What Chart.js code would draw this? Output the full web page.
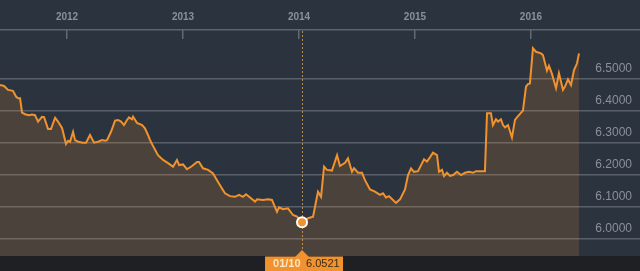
<!DOCTYPE html>
<html>
<head>
<meta charset="utf-8">
<script src="https://cdn.jsdelivr.net/npm/chart.js@4.4.1/dist/chart.umd.min.js"></script>
<style>
  html, body { margin: 0; padding: 0; background: #2a333e; }
  #wrap { width: 640px; height: 271px; }
</style>
</head>
<body>
<div id="wrap"><canvas id="chartTipo"></canvas></div>
<script>
// fechas en años decimales
const fechas = [
  2011.422, 2011.457, 2011.491, 2011.534, 2011.560, 2011.578, 2011.595, 2011.612, 2011.638, 2011.672,
  2011.698, 2011.724, 2011.750, 2011.784, 2011.802, 2011.836, 2011.862, 2011.897, 2011.922, 2011.957,
  2011.991, 2012.009, 2012.026, 2012.052, 2012.069, 2012.095, 2012.138, 2012.164, 2012.198, 2012.233,
  2012.267, 2012.302, 2012.328, 2012.345, 2012.379, 2012.414, 2012.440, 2012.466, 2012.491, 2012.517,
  2012.534, 2012.560, 2012.569, 2012.603, 2012.647, 2012.672, 2012.698, 2012.716, 2012.741, 2012.784,
  2012.828, 2012.871, 2012.914, 2012.948, 2012.966, 2013.000, 2013.034, 2013.078, 2013.121, 2013.138,
  2013.172, 2013.216, 2013.259, 2013.293, 2013.336, 2013.362, 2013.405, 2013.448, 2013.483, 2013.517,
  2013.543, 2013.578, 2013.621, 2013.638, 2013.690, 2013.733, 2013.767, 2013.810, 2013.828, 2013.862,
  2013.905, 2013.948, 2013.983, 2014.026, 2014.078, 2014.121, 2014.155, 2014.164, 2014.190, 2014.216,
  2014.241, 2014.284, 2014.328, 2014.353, 2014.397, 2014.422, 2014.457, 2014.474, 2014.509, 2014.543,
  2014.569, 2014.612, 2014.655, 2014.698, 2014.724, 2014.750, 2014.776, 2014.810, 2014.836, 2014.871,
  2014.914, 2014.940, 2014.966, 2014.991, 2015.026, 2015.078, 2015.103, 2015.129, 2015.155, 2015.190,
  2015.207, 2015.233, 2015.250, 2015.276, 2015.302, 2015.328, 2015.362, 2015.397, 2015.431, 2015.466,
  2015.500, 2015.526, 2015.586, 2015.603, 2015.621, 2015.655, 2015.672, 2015.698, 2015.716, 2015.741,
  2015.759, 2015.776, 2015.802, 2015.836, 2015.862, 2015.888, 2015.931, 2015.957, 2015.974, 2015.991,
  2016.017, 2016.043, 2016.086, 2016.103, 2016.138, 2016.155, 2016.181, 2016.216, 2016.241, 2016.276,
  2016.293, 2016.319, 2016.345, 2016.371, 2016.397, 2016.414
];
const valores = [
  6.481, 6.478, 6.466, 6.463, 6.445, 6.440, 6.440, 6.395, 6.390, 6.387,
  6.389, 6.387, 6.367, 6.382, 6.381, 6.344, 6.344, 6.379, 6.367, 6.347,
  6.297, 6.307, 6.304, 6.335, 6.309, 6.304, 6.301, 6.301, 6.325, 6.301,
  6.304, 6.309, 6.307, 6.309, 6.335, 6.370, 6.372, 6.367, 6.356, 6.372,
  6.380, 6.374, 6.382, 6.363, 6.356, 6.346, 6.325, 6.309, 6.291, 6.262,
  6.247, 6.237, 6.226, 6.247, 6.231, 6.233, 6.218, 6.228, 6.241, 6.241,
  6.221, 6.216, 6.205, 6.184, 6.158, 6.143, 6.134, 6.132, 6.138, 6.132,
  6.140, 6.130, 6.117, 6.124, 6.122, 6.124, 6.122, 6.085, 6.099, 6.093,
  6.096, 6.075, 6.070, 6.0521, 6.065, 6.070, 6.132, 6.148, 6.132, 6.226,
  6.216, 6.214, 6.262, 6.228, 6.238, 6.252, 6.210, 6.221, 6.207, 6.207,
  6.184, 6.155, 6.148, 6.138, 6.143, 6.130, 6.134, 6.122, 6.113, 6.124,
  6.155, 6.200, 6.221, 6.210, 6.212, 6.249, 6.242, 6.255, 6.270, 6.262,
  6.210, 6.216, 6.197, 6.207, 6.197, 6.200, 6.210, 6.200, 6.207, 6.210,
  6.207, 6.212, 6.212, 6.212, 6.393, 6.393, 6.356, 6.374, 6.367, 6.374,
  6.356, 6.349, 6.356, 6.317, 6.372, 6.384, 6.401, 6.476, 6.484, 6.486,
  6.596, 6.585, 6.580, 6.575, 6.526, 6.541, 6.516, 6.471, 6.518, 6.466,
  6.476, 6.499, 6.481, 6.528, 6.549, 6.580
];
const anios = [2012, 2013, 2014, 2015, 2016];
const marcasY = [6.0, 6.1, 6.2, 6.3, 6.4, 6.5];
const fechaMarcada = 2014.026;
const etiquetaFecha = '01/10';

const indiceMarcado = fechas.indexOf(fechaMarcada);
const naranja = '#f0922e';
const gris = '#8a9199';

const fondo = {
  id: 'fondo',
  beforeDraw(chart) {
    const { ctx, width, height, chartArea } = chart;
    ctx.save();
    ctx.fillStyle = '#2b333e';
    ctx.fillRect(0, 0, width, height);
    ctx.fillStyle = '#1f2023';
    ctx.fillRect(0, chartArea.bottom, width, height - chartArea.bottom);
    ctx.restore();
  }
};

const marcador = {
  id: 'marcador',
  beforeDatasetsDraw(chart) {
    const { ctx, chartArea } = chart;
    const x = Math.round(chart.scales.x.getPixelForValue(fechaMarcada)) + 0.5;
    ctx.save();
    ctx.strokeStyle = '#b58a52';
    ctx.lineWidth = 1;
    ctx.setLineDash([2, 2]);
    ctx.beginPath();
    ctx.moveTo(x, chartArea.top + 1);
    ctx.lineTo(x, chartArea.bottom);
    ctx.stroke();
    ctx.restore();
  },
  afterDraw(chart) {
    const { ctx, chartArea } = chart;
    const x = chart.scales.x.getPixelForValue(fechaMarcada);
    const b = chartArea.bottom;
    ctx.save();
    ctx.fillStyle = naranja;
    ctx.fillRect(x - 37, b + 0.5, 78, 15);
    ctx.beginPath();
    ctx.moveTo(x - 7, b + 1);
    ctx.lineTo(x, b - 6);
    ctx.lineTo(x + 7, b + 1);
    ctx.closePath();
    ctx.fill();
    ctx.textBaseline = 'middle';
    ctx.textAlign = 'left';
    ctx.font = 'bold 11px "Liberation Sans"';
    ctx.fillStyle = '#fde5c6';
    ctx.fillText(etiquetaFecha, x - 29, b + 8);
    ctx.font = '11px "Liberation Sans"';
    ctx.fillStyle = '#3d2b17';
    ctx.fillText(valores[indiceMarcado].toFixed(4), x + 4, b + 8);
    ctx.restore();
  }
};

new Chart(document.getElementById('chartTipo'), {
  type: 'line',
  data: {
    datasets: [{
      data: fechas.map((f, i) => ({ x: f, y: valores[i] })),
      borderColor: naranja,
      borderWidth: 2,
      backgroundColor: 'rgba(240,146,46,0.17)',
      fill: 'start',
      tension: 0,
      pointRadius: fechas.map((f, i) => i === indiceMarcado ? 5 : 0),
      pointBackgroundColor: naranja,
      pointBorderColor: '#ffffff',
      pointBorderWidth: 2
    }]
  },
  options: {
    responsive: true,
    maintainAspectRatio: false,
    animation: false,
    events: [],
    layout: { padding: { bottom: 15 } },
    plugins: { legend: { display: false }, tooltip: { enabled: false } },
    scales: {
      x: {
        type: 'linear',
        position: 'top',
        min: 2011.422,
        max: 2016.94,
        afterBuildTicks: s => { s.ticks = anios.map(v => ({ value: v })); },
        afterFit: s => { s.height = 30; },
        ticks: {
          color: gris,
          font: { size: 10, weight: 'bold', family: 'Liberation Sans' },
          padding: 15.5,
          maxRotation: 0,
          autoSkip: false,
          callback: v => String(v)
        },
        grid: { drawOnChartArea: false, tickLength: -9, color: '#626a73', lineWidth: 1.5 },
        border: { color: '#5d646d', width: 1.5 }
      },
      y: {
        position: 'right',
        min: 5.947,
        max: 6.653,
        afterBuildTicks: s => { s.ticks = marcasY.map(v => ({ value: v })); },
        afterFit: s => { s.width = 0; },
        ticks: {
          mirror: true,
          padding: -8,
          labelOffset: -10.5,
          color: gris,
          font: { size: 12, family: 'Liberation Sans' },
          callback: v => v.toFixed(4)
        },
        grid: { color: 'rgba(200,200,205,0.3)', lineWidth: 1.5, drawTicks: false },
        border: { display: false }
      }
    }
  },
  plugins: [fondo, marcador]
});
</script>
</body>
</html>
